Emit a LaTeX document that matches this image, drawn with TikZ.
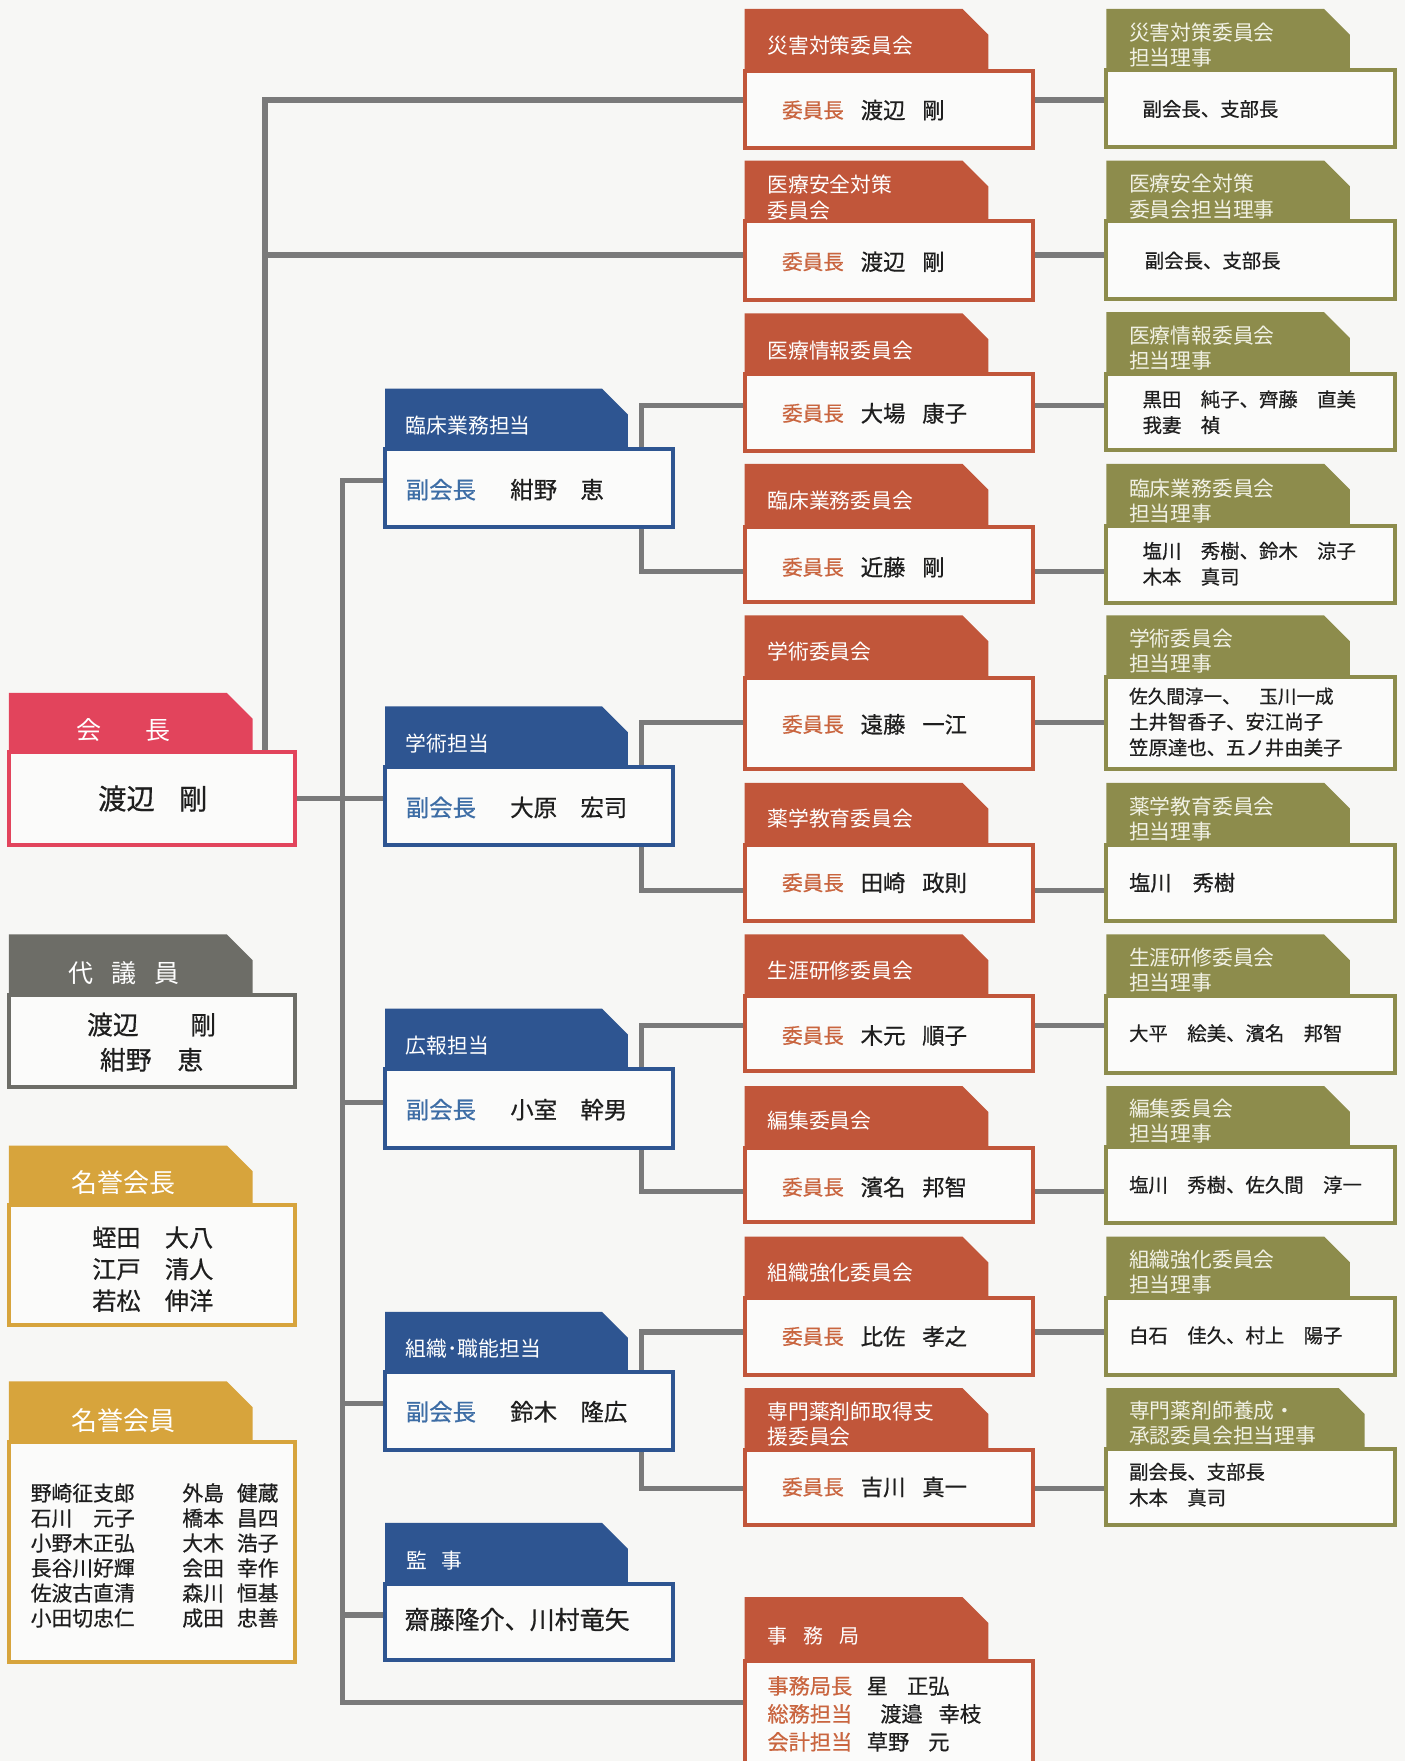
\documentclass[tikz,border=0pt]{standalone}
\usepackage{fontspec}
\setmainfont{Noto Sans CJK JP}
\newfontfamily\nmf{Noto Sans CJK JP}[FakeBold=0.6]
\usetikzlibrary{fit,calc}
\pgfdeclarelayer{bg}
\pgfsetlayers{bg,main}
\definecolor{bgc}{HTML}{F7F7F5}
\definecolor{boxc}{HTML}{FBFBFA}
\definecolor{connc}{HTML}{7A7A7A}
\definecolor{redc}{HTML}{E2445C}
\definecolor{grayc}{HTML}{6D6D67}
\definecolor{goldc}{HTML}{D7A43C}
\definecolor{bluec}{HTML}{2E5591}
\definecolor{bluet}{HTML}{3D6DA5}
\definecolor{rustc}{HTML}{C1563A}
\definecolor{rustt}{HTML}{C9653F}
\definecolor{olivec}{HTML}{8D8C4C}
\definecolor{olivet}{HTML}{F1F1E4}
\definecolor{txtc}{HTML}{1E1E1E}
\newcommand\gp{\hspace{0.75em}}
% #1 name, #2 colour, #3 x0, #4 x1, #5 tab top, #6 box top, #7 box bottom, #8 tab right
\newcommand\tabbox[8]{%
  \fill[#2] (#3,#6+2) -- (#3,#5) -- (#8-23,#5) -- (#8,#5+23) -- (#8,#6+2) -- cycle;
  \node[boxnode, draw=#2, fit={(#3,#6) (#4,#7)}] (#1) {};
}
% committee: #1 name, #2 tab top, #3 box top, #4 box bottom, #5 label y, #6 label, #7 text y, #8 person
\newcommand\cmtee[8]{%
  \tabbox{#1}{rustc}{663}{920}{#2}{#3}{#4}{880}
  \node[tl] (#1-l) at (683,#5) {#6};
  \node[nm, text=rustt, font=\fontsize{10.3}{12}\selectfont] (#1-r) at (696,#7) {委員長};
  \node[nm, font=\fontsize{11.2}{13}\selectfont] (#1-n) at (766,#7) {#8};
}
% green: #1 name, #2 tab top, #3 box top, #4 box bottom, #5 label y, #6 label, #7 text x, #8 text y, #9 text
\newcommand\tanto[9]{%
  \tabbox{#1}{olivec}{985}{1242}{#2}{#3}{#4}{1202}
  \node[tl, text=olivet] (#1-l) at (1005,#5) {#6};
  \node[nm, font=\fontsize{9.7}{12.9}\selectfont] (#1-n) at (#7,#8) {#9};
}
\begin{document}
\begin{tikzpicture}[x=0.56155pt, y=-0.56155pt,
  boxnode/.style={inner sep=0pt, outer sep=0pt, line width=2pt, fill=boxc},
  tl/.style={inner sep=0pt, anchor=west, align=left, text=white, font=\fontsize{10.4}{12.6}\selectfont},
  nm/.style={inner sep=0pt, anchor=west, align=left, text=txtc, execute at begin node=\nmf},
  conn/.style={draw=connc, line width=2.6pt}]
\begin{pgfonlayer}{bg}
\fill[bgc] (0,0) rectangle (1251,1568);
\end{pgfonlayer}
\useasboundingbox (0,0) rectangle (1251,1568);
\clip (0,0) rectangle (1251,1568);

% ---------- left column ----------
\tabbox{kaicho}{redc}{8}{263}{617}{670}{752}{225}
\node[tl, anchor=center, font=\fontsize{12.5}{14}\selectfont] (kaicho-l) at (110,650) {会\hspace{22pt}長};
\node[nm, anchor=center, font=\fontsize{14.2}{16}\selectfont] (kaicho-n) at (136,711) {渡辺\hspace{0.85em}剛};

\tabbox{daigiin}{grayc}{8}{263}{832}{886}{968}{225}
\node[tl, anchor=center, font=\fontsize{12.5}{14}\selectfont] (daigiin-l) at (110,866) {代\hspace{9pt}議\hspace{9pt}員};
\node[nm, anchor=center, align=center, font=\fontsize{12.9}{17.6}\selectfont] (daigiin-n) at (135,928) {渡辺　　剛\\紺野　恵};

\tabbox{meiyokaicho}{goldc}{8}{263}{1020}{1073}{1180}{225}
\node[tl, anchor=center, font=\fontsize{13}{15}\selectfont] (mk-l) at (110,1053) {名誉会長};
\node[nm, anchor=center, font=\fontsize{12.1}{15.8}\selectfont] (mk-n) at (136,1130) {蛭田　大八\\江戸　清人\\若松　伸洋};

\tabbox{meiyokaiin}{goldc}{8}{263}{1230}{1284}{1480}{225}
\node[tl, anchor=center, font=\fontsize{13}{15}\selectfont] (mi-l) at (110,1265) {名誉会員};
\node[nm, font=\fontsize{10.4}{12.5}\selectfont] (mi-a) at (27,1385) {野崎征支郎\\石川　元子\\小野木正弘\\長谷川好輝\\佐波古直清\\小田切忠仁};
\node[nm, font=\fontsize{10.4}{12.5}\selectfont] (mi-b) at (162,1385) {外島\kern6.5pt 健蔵\\橋本\kern6.5pt 昌四\\大木\kern6.5pt 浩子\\会田\kern6.5pt 幸作\\森川\kern6.5pt 恒基\\成田\kern6.5pt 忠善};

% ---------- vice presidents ----------
\tabbox{rinsho}{bluec}{343}{599}{346}{400}{469}{559}
\node[tl] (rinsho-l) at (361,379) {臨床業務担当};
\node[nm, text=bluet, font=\fontsize{11.7}{14}\selectfont] (rinsho-r) at (361,436) {副会長};
\node[nm, font=\fontsize{11.7}{14}\selectfont] (rinsho-n) at (454,436) {紺野　恵};

\tabbox{gakujutsu}{bluec}{343}{599}{629}{683}{752}{559}
\node[tl] (gakujutsu-l) at (361,662) {学術担当};
\node[nm, text=bluet, font=\fontsize{11.7}{14}\selectfont] (gakujutsu-r) at (361,719) {副会長};
\node[nm, font=\fontsize{11.7}{14}\selectfont] (gakujutsu-n) at (454,719) {大原　宏司};

\tabbox{koho}{bluec}{343}{599}{898}{952}{1022}{559}
\node[tl] (koho-l) at (361,931) {広報担当};
\node[nm, text=bluet, font=\fontsize{11.7}{14}\selectfont] (koho-r) at (361,988) {副会長};
\node[nm, font=\fontsize{11.7}{14}\selectfont] (koho-n) at (454,988) {小室　幹男};

\tabbox{soshiki}{bluec}{343}{599}{1168}{1222}{1291}{559}
\node[tl] (soshiki-l) at (361,1201) {組織･職能担当};
\node[nm, text=bluet, font=\fontsize{11.7}{14}\selectfont] (soshiki-r) at (361,1257) {副会長};
\node[nm, font=\fontsize{11.7}{14}\selectfont] (soshiki-n) at (454,1257) {鈴木　隆広};

\tabbox{kanji}{bluec}{343}{599}{1356}{1410}{1478}{559}
\node[tl] (kanji-l) at (362,1390) {監\hspace{7pt}事};
\node[nm, font=\fontsize{12.5}{14}\selectfont] (kanji-n) at (360,1442) {齋藤隆介、川村竜矢};

% ---------- committees ----------
\cmtee{saigai}{8}{63}{132}{41}{災害対策委員会}{98}{渡辺\gp 剛}
\cmtee{iryoanzen}{143}{197}{267}{176}{医療安全対策\\委員会}{233}{渡辺\gp 剛}
\cmtee{iryojoho}{279}{333}{402}{312}{医療情報委員会}{368}{大場\gp 康子}
\cmtee{rinshoI}{413}{469}{536}{446}{臨床業務委員会}{505}{近藤\gp 剛}
\cmtee{gakujutsuI}{548}{604}{685}{580}{学術委員会}{645}{遠藤\gp 一江}
\cmtee{yakugaku}{697}{752}{820}{729}{薬学教育委員会}{786}{田崎\gp 政則}
\cmtee{shogai}{832}{887}{954}{864}{生涯研修委員会}{922}{木元\gp 順子}
\cmtee{henshu}{967}{1022}{1088}{998}{編集委員会}{1057}{濱名\gp 邦智}
\cmtee{soshikiI}{1101}{1156}{1224}{1133}{組織強化委員会}{1190}{比佐\gp 孝之}
\cmtee{senmon}{1236}{1291}{1358}{1268}{専門薬剤師取得支\\援委員会}{1324}{吉川\gp 真一}

\tabbox{jimu}{rustc}{663}{920}{1422}{1479}{1600}{880}
\node[tl, font=\fontsize{10}{12}\selectfont] (jimu-l) at (683,1457) {事\hspace{8pt}務\hspace{8pt}局};
\node[nm, font=\fontsize{10.6}{14}\selectfont] (jimu-n) at (683,1526)
  {{\color{rustt}事務局長}\hspace{7.3pt}星\hspace{9.5pt}正弘\\
   {\color{rustt}総務担当}\hspace{14pt}渡邉\hspace{8pt}幸枝\\
   {\color{rustt}会計担当}\hspace{7.3pt}草野\hspace{9.5pt}元};

% ---------- board members in charge ----------
\tanto{g1}{8}{62}{131}{40}{災害対策委員会\\担当理事}{1017}{97}{副会長、支部長}
\tanto{g2}{143}{197}{266}{175}{医療安全対策\\委員会担当理事}{1019}{232}{副会長、支部長}
\tanto{g3}{278}{333}{401}{310}{医療情報委員会\\担当理事}{1017}{367}{黒田　純子、齊藤　直美\\我妻　禎}
\tanto{g4}{413}{468}{537}{446}{臨床業務委員会\\担当理事}{1017}{502}{塩川　秀樹、鈴木　涼子\\木本　真司}
\tanto{g5}{548}{603}{685}{580}{学術委員会\\担当理事}{1005}{643}{\fontsize{9.3}{12}\selectfont 佐久間淳一、　玉川一成\\土井智香子、安江尚子\\笠原達也、五ノ井由美子}
\tanto{g6}{697}{752}{820}{729}{薬学教育委員会\\担当理事}{1005}{786}{\fontsize{10.6}{13}\selectfont 塩川　秀樹}
\tanto{g7}{832}{887}{955}{864}{生涯研修委員会\\担当理事}{1005}{920}{大平　絵美、濱名　邦智}
\tanto{g8}{967}{1021}{1089}{998}{編集委員会\\担当理事}{1005}{1055}{塩川　秀樹、佐久間　淳一}
\tanto{g9}{1101}{1156}{1224}{1133}{組織強化委員会\\担当理事}{1005}{1189}{白石　佳久、村上　陽子}
\tabbox{g10}{olivec}{985}{1242}{1236}{1290}{1358}{1215}
\node[tl, text=olivet] (g10-l) at (1005,1267) {専門薬剤師養成・\\承認委員会担当理事};
\node[nm, font=\fontsize{9.7}{12.9}\selectfont] (g10-n) at (1005,1322) {副会長、支部長\\木本　真司};

% ---------- connectors ----------
\begin{pgfonlayer}{bg}
\coordinate (a1) at (236,89);
\coordinate (a2) at (236,227);
\draw[conn] (kaicho.north -| a1) -- (a1) -- (a1 -| saigai.west);
\draw[conn] (a2) -- (a2 -| iryoanzen.west);
\draw[conn] (saigai.east |- a1) -- (g1.west |- a1);
\draw[conn] (iryoanzen.east |- a2) -- (g2.west |- a2);

\draw[conn] (kaicho.east) -- (kaicho.east -| gakujutsu.west);
\coordinate (t1) at (305,428);
\coordinate (t3) at (305,982);
\coordinate (t4) at (305,1250);
\coordinate (t5) at (305,1438);
\coordinate (t2) at (305,1516);
\draw[conn] (t1 -| rinsho.west) -- (t1) -- (t2) -- (t2 -| jimu.west);
\draw[conn] (t3) -- (t3 -| koho.west);
\draw[conn] (t4) -- (t4 -| soshiki.west);
\draw[conn] (t5) -- (t5 -| kanji.west);

\coordinate (b1) at (571,361);
\coordinate (b2) at (571,509);
\coordinate (b3) at (571,643);
\coordinate (b4) at (571,793);
\coordinate (b5) at (571,913);
\coordinate (b6) at (571,1061);
\coordinate (b7) at (571,1186);
\coordinate (b8) at (571,1325);
\draw[conn] (b1 -| iryojoho.west) -- (b1) -- (b2) -- (b2 -| rinshoI.west);
\draw[conn] (b3 -| gakujutsuI.west) -- (b3) -- (b4) -- (b4 -| yakugaku.west);
\draw[conn] (b5 -| shogai.west) -- (b5) -- (b6) -- (b6 -| henshu.west);
\draw[conn] (b7 -| soshikiI.west) -- (b7) -- (b8) -- (b8 -| senmon.west);

\draw[conn] (iryojoho.east |- b1) -- (g3.west |- b1);
\draw[conn] (rinshoI.east |- b2) -- (g4.west |- b2);
\draw[conn] (gakujutsuI.east |- b3) -- (g5.west |- b3);
\draw[conn] (yakugaku.east |- b4) -- (g6.west |- b4);
\draw[conn] (shogai.east |- b5) -- (g7.west |- b5);
\draw[conn] (henshu.east |- b6) -- (g8.west |- b6);
\draw[conn] (soshikiI.east |- b7) -- (g9.west |- b7);
\draw[conn] (senmon.east |- b8) -- (g10.west |- b8);
\end{pgfonlayer}
\end{tikzpicture}
\end{document}
